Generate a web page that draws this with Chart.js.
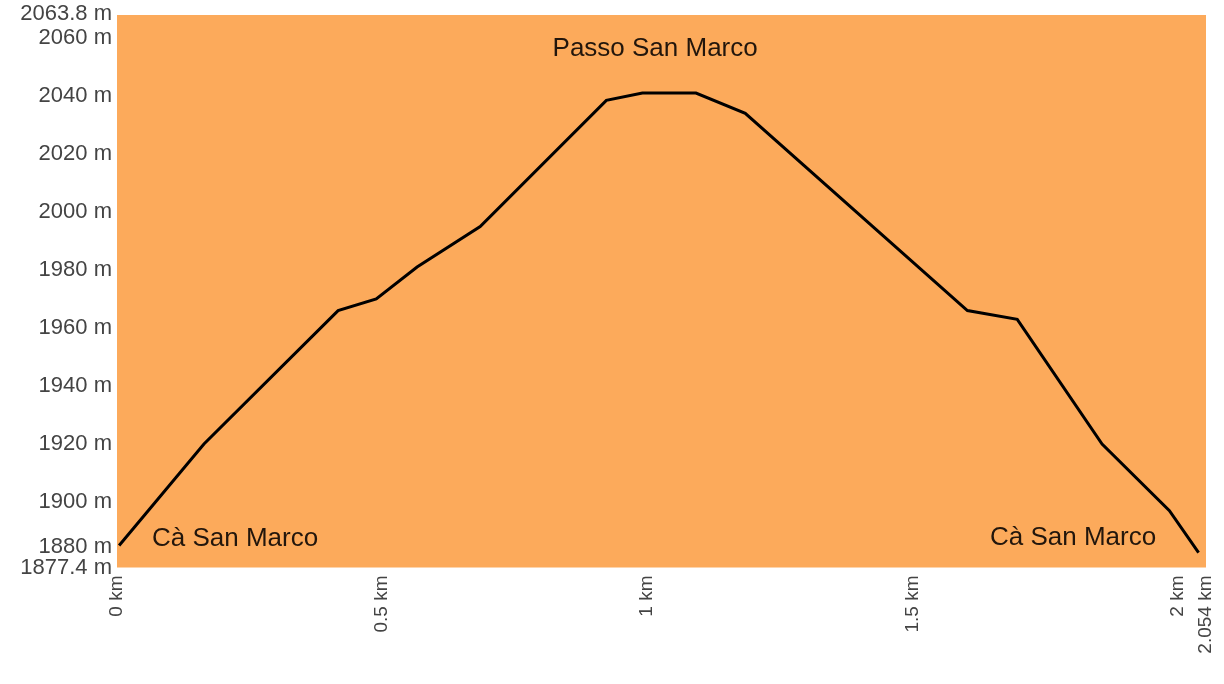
<!DOCTYPE html>
<html>
<head>
<meta charset="utf-8">
<script src="https://cdn.jsdelivr.net/npm/chart.js@4/dist/chart.umd.min.js"></script>
<style>
  html, body { margin: 0; padding: 0; background: #ffffff; }
  #wrap { width: 1224px; height: 684px; }
</style>
</head>
<body>
<div id="wrap"><canvas id="c" width="1224" height="684"></canvas></div>
<script>
// ---- data ----
const distanceKm = [0.004, 0.164, 0.417, 0.489, 0.566, 0.685, 0.923, 0.991, 1.092, 1.185, 1.604, 1.698, 1.858, 1.985, 2.040];
const elevationM = [1885, 1920, 1966, 1970, 1981, 1995, 2038.5, 2041, 2041, 2034, 1966, 1963, 1920, 1897, 1882.5];

const xTickValues = [0, 0.5, 1, 1.5, 2, 2.054];
const yTickValues = [1877.4, 1880, 1900, 1920, 1940, 1960, 1980, 2000, 2020, 2040, 2060, 2063.8];

const placeNames = ['Cà San Marco', 'Passo San Marco', 'Cà San Marco'];
const placeKm = [0.066, 1.015, 1.960];
const placeElev = [1887.2, 2056.2, 1887.6];
const placeAlign = ['left', 'center', 'right'];

const xMin = 0, xMax = 2.054;
const yMin = 1877.4, yMax = 2063.8;

// ---- plugins ----
const orangeBg = {
  id: 'orangeBg',
  beforeDatasetsDraw(chart) {
    const a = chart.chartArea, ctx = chart.ctx;
    ctx.save();
    ctx.fillStyle = '#fcaa5b';
    ctx.fillRect(a.left, a.top - 12, a.right - a.left, a.bottom - a.top + 12);
    ctx.restore();
  }
};

const placeLabels = {
  id: 'placeLabels',
  afterDatasetsDraw(chart) {
    const ctx = chart.ctx, xs = chart.scales.x, ys = chart.scales.y;
    ctx.save();
    ctx.font = '26px "Liberation Sans", Arial, sans-serif';
    ctx.fillStyle = '#22160c';
    ctx.textBaseline = 'middle';
    placeNames.forEach((name, i) => {
      ctx.textAlign = placeAlign[i];
      ctx.fillText(name, xs.getPixelForValue(placeKm[i]), ys.getPixelForValue(placeElev[i]));
    });
    ctx.restore();
  }
};

function fmt(v) {
  return (Math.round(v * 1000) / 1000).toString();
}

new Chart(document.getElementById('c'), {
  type: 'line',
  data: {
    datasets: [{
      data: distanceKm.map((x, i) => ({ x: x, y: elevationM[i] })),
      borderColor: '#000000',
      borderWidth: 3,
      pointRadius: 0,
      fill: false,
      tension: 0
    }]
  },
  options: {
    responsive: false,
    animation: false,
    devicePixelRatio: 1,
    layout: { padding: { top: 27, right: 18, left: 0, bottom: 0 } },
    plugins: { legend: { display: false }, tooltip: { enabled: false } },
    scales: {
      x: {
        type: 'linear',
        min: xMin,
        max: xMax,
        grid: { display: false, drawTicks: false },
        border: { display: false },
        afterBuildTicks(scale) { scale.ticks = xTickValues.map(v => ({ value: v })); },
        afterFit(scale) {
          scale.height = 116.5;
          scale.paddingLeft = 0;
          scale.paddingRight = 0;
        },
        ticks: {
          autoSkip: false,
          minRotation: 90,
          maxRotation: 90,
          padding: 8,
          color: '#444444',
          font: { family: '"Liberation Sans", Arial, sans-serif', size: 19 },
          callback: (v) => fmt(v) + ' km'
        }
      },
      y: {
        type: 'linear',
        min: yMin,
        max: yMax,
        grid: { display: false, drawTicks: false },
        border: { display: false },
        afterBuildTicks(scale) { scale.ticks = yTickValues.map(v => ({ value: v })); },
        afterFit(scale) {
          scale.width = 117;
          scale.paddingTop = 0;
          scale.paddingBottom = 0;
        },
        ticks: {
          autoSkip: false,
          padding: 5,
          color: '#444444',
          font: { family: '"Liberation Sans", Arial, sans-serif', size: 22 },
          callback: (v) => {
            const s = fmt(v) + ' m';
            if (v === 2063.8 || v === 1880) return [s, ''];
            return s;
          }
        }
      }
    }
  },
  plugins: [orangeBg, placeLabels]
});
</script>
</body>
</html>
